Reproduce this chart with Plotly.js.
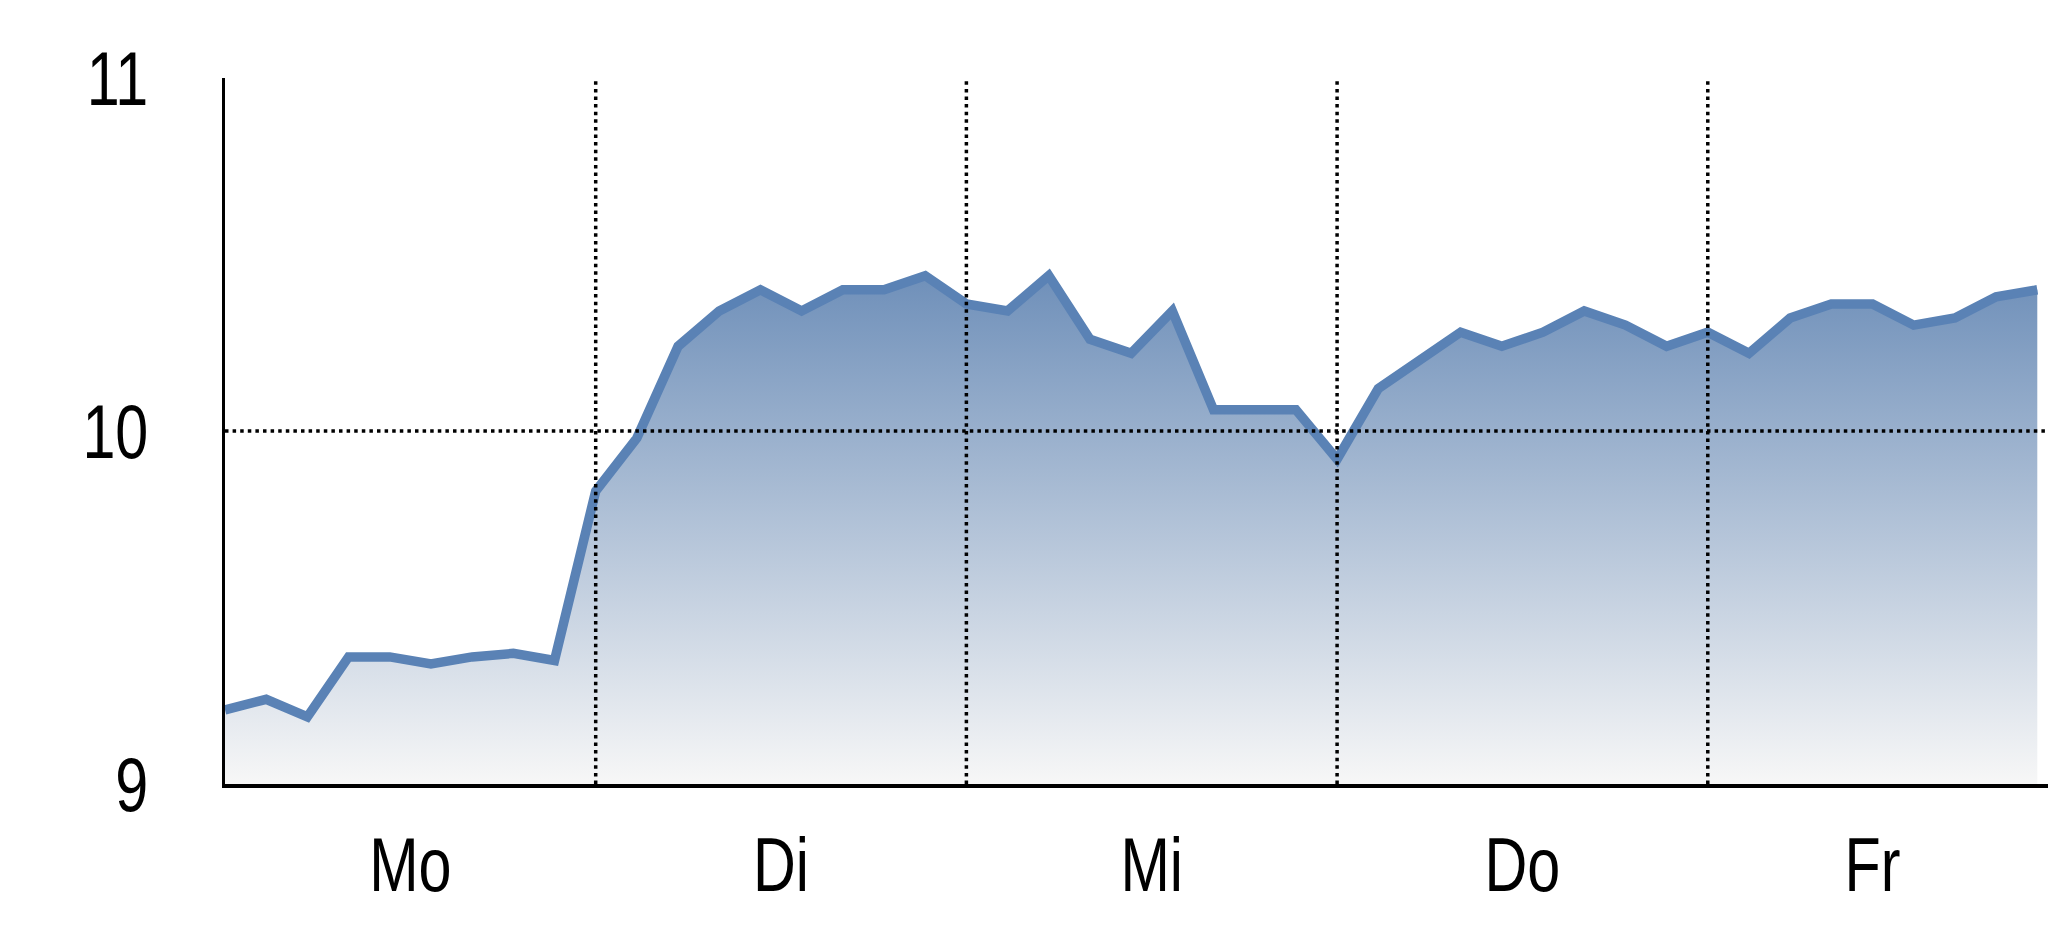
<!DOCTYPE html>
<html>
<head>
<meta charset="utf-8">
<script src="https://cdn.plot.ly/plotly-3.0.1.min.js"></script>
<style>
  html, body { margin: 0; padding: 0; background: #fff; }
  #chart { width: 2048px; height: 937px; }
</style>
</head>
<body>
<div id="chart"></div>
<script>
// Wochenkurs, 9 Messpunkte pro Handelstag
const days = ["Mo", "Di", "Mi", "Do", "Fr"];
const dayLabelPos = [4.5, 13.5, 22.5, 31.5, 40];
const dayEdges = [9, 18, 27, 36];
const price = [
  9.21, 9.24, 9.19, 9.36, 9.36, 9.34, 9.36, 9.37, 9.35,
  9.83, 9.98, 10.24, 10.34, 10.40, 10.34, 10.40, 10.40, 10.44,
  10.36, 10.34, 10.44, 10.26, 10.22, 10.34, 10.06, 10.06, 10.06,
  9.92, 10.12, 10.20, 10.28, 10.24, 10.28, 10.34, 10.30, 10.24,
  10.28, 10.22, 10.32, 10.36, 10.36, 10.30, 10.32, 10.38, 10.40
];
const yTicks = [9, 10, 11];
const refLevels = [10];

const idx = price.map((_, i) => i);
const font = "'Liberation Sans', Arial, sans-serif";

let trace = {
  type: "scatter",
  mode: "lines",
  x: idx,
  y: price,
  line: { color: "#5a82b5", width: 9.5, shape: "linear" },
  fill: "tozeroy",
  fillgradient: {
    type: "vertical",
    start: 9,
    stop: 10.45,
    colorscale: [[0, "#f7f7f7"], [1, "#6e8fb9"]]
  },
  hoverinfo: "skip",
  showlegend: false
};

// dotted guide lines drawn above the filled area
let dotLine = { color: "#000", width: 3.5, dash: "3.5px,4.1px" };
let shapes = [];
dayEdges.forEach((d) => {
  shapes.push({
    type: "line", layer: "above",
    xref: "x", yref: "paper", x0: d, x1: d, y0: 0, y1: 1,
    line: dotLine
  });
});
refLevels.forEach((v) => {
  shapes.push({
    type: "line", layer: "above",
    xref: "paper", yref: "y", x0: 0, x1: 1, y0: v, y1: v,
    line: dotLine
  });
});

let layout = {
  width: 2048,
  height: 937,
  paper_bgcolor: "#ffffff",
  plot_bgcolor: "#ffffff",
  margin: { l: 225, r: 0, t: 78, b: 153, pad: 0 },
  font: { family: font, color: "#000", size: 76 },
  showlegend: false,
  shapes: shapes,
  xaxis: {
    range: [0, 44.26],
    tickmode: "array",
    tickvals: dayLabelPos,
    ticktext: days,
    ticks: "",
    ticklabelstandoff: 12,
    showgrid: false,
    zeroline: false,
    showline: true,
    linecolor: "#000",
    linewidth: 3.5,
    layer: "above traces",
    tickfont: { family: font, size: 76, color: "#000" },
    fixedrange: true
  },
  yaxis: {
    range: [9, 11],
    tickmode: "array",
    tickvals: yTicks,
    ticktext: yTicks.map(String),
    ticks: "",
    ticklabelstandoff: 58,
    showgrid: false,
    zeroline: false,
    showline: true,
    linecolor: "#000",
    linewidth: 3.5,
    layer: "above traces",
    tickfont: { family: font, size: 76, color: "#000" },
    fixedrange: true
  }
};

// the original labels use a condensed face: squeeze the glyphs a little
function narrowLabels() {
  document.querySelectorAll("#chart .xtick text, #chart .ytick text").forEach((t) => {
    const w = t.getComputedTextLength();
    t.setAttribute("textLength", (w * 0.78).toFixed(1));
    t.setAttribute("lengthAdjust", "spacingAndGlyphs");
  });
}

Plotly.newPlot("chart", [trace], layout, { displayModeBar: false, staticPlot: true })
  .then(narrowLabels);
</script>
</body>
</html>
